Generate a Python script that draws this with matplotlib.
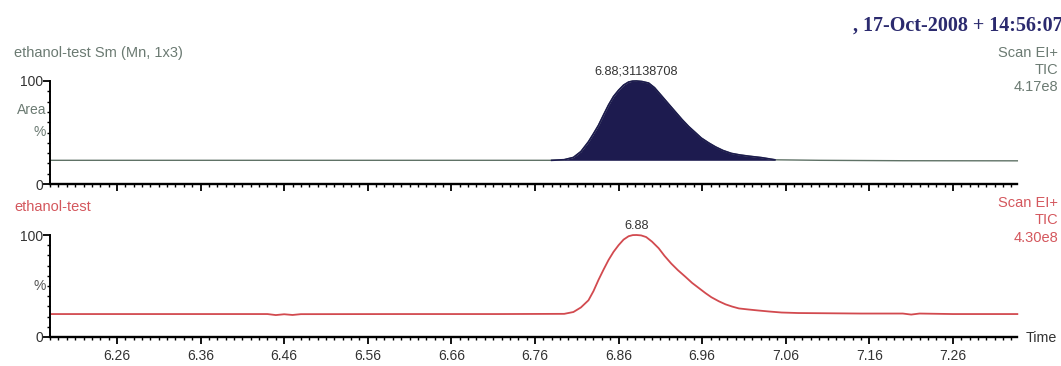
import numpy as np
import matplotlib
matplotlib.use("Agg")
import matplotlib.pyplot as plt
from matplotlib.ticker import MultipleLocator, FixedLocator

# ---------------- data ----------------
x_ticks = [6.26, 6.36, 6.46, 6.56, 6.66, 6.76, 6.86, 6.96, 7.06, 7.16, 7.26]
x_tick_labels = ["6.26", "6.36", "6.46", "6.56", "6.66", "6.76", "6.86", "6.96", "7.06", "7.16", "7.26"]

# top trace (smoothed, integrated)
top_time = [6.180, 6.300, 6.500, 6.700, 6.780, 6.795, 6.806, 6.815, 6.824, 6.830, 6.836,
            6.842, 6.848, 6.854, 6.860, 6.866, 6.872, 6.877, 6.8815, 6.888, 6.896,
            6.903, 6.911, 6.920, 6.928, 6.936, 6.944, 6.952, 6.959, 6.968, 6.976,
            6.985, 6.995, 7.005, 7.016, 7.031, 7.047, 7.100, 7.200, 7.337]
top_pct = [23.0, 23.0, 23.0, 23.0, 23.0, 23.6, 25.8, 31.5, 41.0, 48.8, 57.0,
           67.0, 76.7, 85.0, 91.0, 96.0, 99.0, 99.9, 100.0, 99.5, 98.0,
           93.5, 86.0, 77.5, 70.0, 62.5, 55.7, 49.8, 44.6, 39.8, 36.0,
           32.5, 29.7, 28.2, 27.0, 25.6, 23.5, 23.0, 22.6, 22.5]
fill_start, fill_end = 6.780, 7.047
peak_top_label = "6.88;31138708"
peak_top_time = 6.8815

# bottom trace (raw TIC)
bot_time = [6.180, 6.300, 6.440, 6.450, 6.460, 6.470, 6.480, 6.600, 6.716, 6.795,
            6.806, 6.815, 6.824, 6.830, 6.836, 6.842, 6.848, 6.854, 6.860, 6.866,
            6.872, 6.877, 6.8815, 6.887, 6.893, 6.900, 6.908, 6.915, 6.923, 6.931,
            6.940, 6.948, 6.956, 6.964, 6.971, 6.980, 6.988, 6.996, 7.004, 7.015,
            7.027, 7.040, 7.055, 7.075, 7.150, 7.200, 7.210, 7.220, 7.260, 7.337]
bot_pct = [22.5, 22.5, 22.5, 21.5, 22.3, 21.6, 22.4, 22.5, 22.5, 22.7,
           24.5, 29.0, 36.0, 45.0, 56.0, 66.0, 75.5, 83.5, 90.0, 95.5,
           98.8, 99.9, 100.0, 99.6, 98.0, 93.5, 87.0, 79.5, 72.0, 65.5,
           59.0, 53.0, 48.0, 43.0, 39.0, 35.0, 32.0, 29.8, 28.0, 27.0,
           26.0, 25.0, 24.0, 23.5, 23.0, 23.0, 22.0, 23.0, 22.5, 22.5]
peak_bot_label = "6.88"
peak_bot_time = 6.8815

top_info = ["Scan EI+", "TIC", "4.17e8"]
bot_info = ["Scan EI+", "TIC", "4.30e8"]

# ---------------- style ----------------
W, H = 1061, 366
fig = plt.figure(figsize=(W / 100, H / 100), dpi=100)
fig.patch.set_facecolor("white")
FONT = "Liberation Sans"
green_txt = "#6b7a72"
red_txt = "#d4575d"
navy = "#1d1b4f"
xmin, xmax = 6.1799, 7.3366


def px(x, y):
    return x / W, 1 - y / H


def setup_axis(ax, show_labels):
    ax.set_xlim(xmin, xmax)
    ax.set_ylim(0, 100)
    for s in ["top", "right"]:
        ax.spines[s].set_visible(False)
    ax.spines["left"].set_linewidth(1.4)
    ax.spines["bottom"].set_linewidth(1.7)
    ax.xaxis.set_major_locator(FixedLocator(x_ticks))
    ax.xaxis.set_minor_locator(MultipleLocator(0.01))
    ax.yaxis.set_major_locator(FixedLocator([0, 100]))
    ax.yaxis.set_minor_locator(MultipleLocator(10))
    ax.tick_params(axis="x", which="major", direction="out", length=5, width=1.3)
    ax.tick_params(axis="x", which="minor", direction="out", length=2.5, width=1.0)
    ax.tick_params(axis="y", which="major", direction="out", length=5, width=1.3,
                   labelsize=10, pad=0)
    ax.tick_params(axis="y", which="minor", direction="out", length=2.5, width=1.0)
    ax.set_yticklabels(["0", "100"], fontfamily=FONT)
    if show_labels:
        ax.set_xticklabels(x_tick_labels, fontfamily=FONT, fontsize=10)
        ax.tick_params(axis="x", which="major", pad=4)
    else:
        ax.set_xticklabels([])
    ax.patch.set_alpha(0)


# top axes
ax1 = fig.add_axes([50 / W, 1 - 184 / H, (1017 - 50) / W, (184 - 81) / H])
setup_axis(ax1, False)
tt = np.array(top_time)
tp = np.array(top_pct)
mask = (tt >= fill_start) & (tt <= fill_end)
ax1.fill_between(tt[mask], 23.0, tp[mask], color=navy, lw=0)
ax1.plot(top_time, top_pct, color="#5f7266", lw=1.0, clip_on=False)
ax1.plot(tt[mask], tp[mask], color=navy, lw=1.2, clip_on=False)
ax1.text(peak_top_time, 103, peak_top_label, ha="center", va="bottom",
         fontsize=9.2, fontfamily=FONT, color="#333333")
ax1.text(-0.004, 72, "Area", transform=ax1.get_yaxis_transform(), ha="right",
         va="center", fontsize=10, fontfamily=FONT, color=green_txt)
ax1.text(-0.004, 50, "%", transform=ax1.get_yaxis_transform(), ha="right",
         va="center", fontsize=10, fontfamily=FONT, color=green_txt)
for lab in ax1.get_yticklabels():
    lab.set_color("#333333")

# bottom axes
ax2 = fig.add_axes([50 / W, 1 - 337 / H, (1017 - 50) / W, (337 - 235) / H])
setup_axis(ax2, True)
ax2.plot(bot_time, bot_pct, color="#d24a4f", lw=1.3, clip_on=False)
ax2.text(peak_bot_time, 103, peak_bot_label, ha="center", va="bottom",
         fontsize=9.2, fontfamily=FONT, color="#333333")
ax2.text(-0.004, 50, "%", transform=ax2.get_yaxis_transform(), ha="right",
         va="center", fontsize=10, fontfamily=FONT, color="#555555")
for lab in ax2.get_yticklabels():
    lab.set_color("#333333")
for lab in ax2.get_xticklabels():
    lab.set_color("#333333")

# figure texts
fig.text(*px(1063, 26), ", 17-Oct-2008 + 14:56:07", ha="right", va="center",
         fontsize=14.5, fontweight="bold", fontfamily="Liberation Serif", color="#2b2a6e")
fig.text(*px(14, 53), "ethanol-test Sm (Mn, 1x3)", ha="left", va="center",
         fontsize=10.5, fontfamily=FONT, color=green_txt)
for i, t in enumerate(top_info):
    fig.text(*px(1058, 53 + 17 * i), t, ha="right", va="center",
             fontsize=10.5, fontfamily=FONT, color=green_txt)
fig.text(*px(14, 207), "ethanol-test", ha="left", va="center",
         fontsize=10.5, fontfamily=FONT, color=red_txt)
for i, t in enumerate(bot_info):
    fig.text(*px(1058, 203 + 17.5 * i), t, ha="right", va="center",
             fontsize=10.5, fontfamily=FONT, color=red_txt)
fig.text(*px(1026, 338), "Time", ha="left", va="center",
         fontsize=10.3, fontfamily=FONT, color="#333333")

fig.savefig("out.png", dpi=100, facecolor="white")
